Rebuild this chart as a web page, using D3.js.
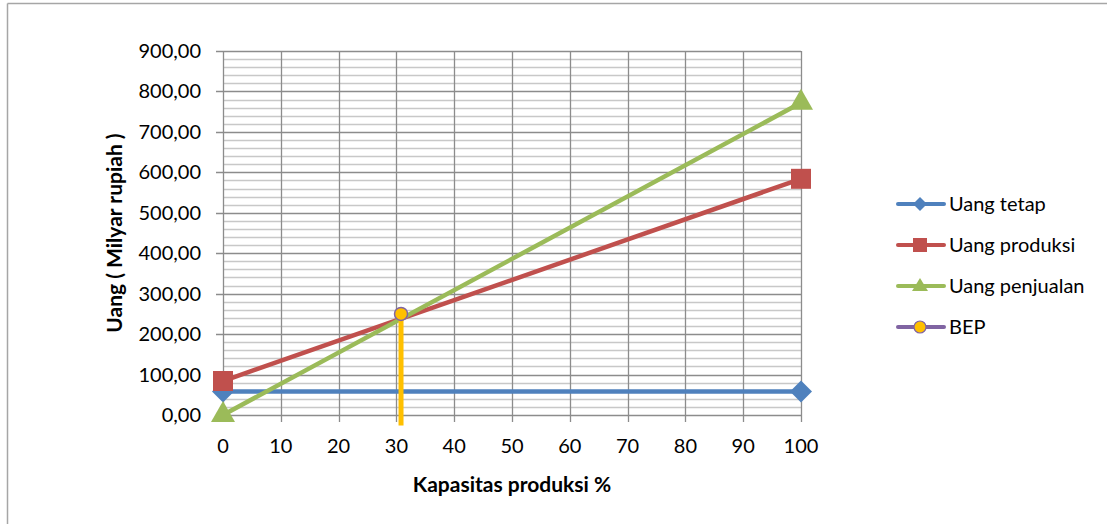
<!DOCTYPE html>
<html>
<head>
<meta charset="utf-8">
<script src="https://cdn.jsdelivr.net/npm/d3@7/dist/d3.min.js"></script>
<style>
  html, body { margin: 0; padding: 0; background: #fff; }
  svg { display: block; }
  text { font-family: Lato, "Open Sans", "DejaVu Sans", sans-serif; fill: #000; }
</style>
</head>
<body>
<svg id="chart" width="1107" height="524"></svg>
<script>
// Break-even chart data (Milyar rupiah vs. production capacity %)
const xTicks = [0, 10, 20, 30, 40, 50, 60, 70, 80, 90, 100];
const yTicks = [0, 100, 200, 300, 400, 500, 600, 700, 800, 900];

const fixedX = [0, 100];
const fixedY = [58, 58];          // Uang tetap
const prodX = [0, 100];
const prodY = [84, 584];          // Uang produksi
const salesX = [0, 100];
const salesY = [0, 772];          // Uang penjualan
const bepX = [30.8, 30.8];
const bepY = [250, -26];          // BEP marker and drop line

const seriesNames = ["Uang tetap", "Uang produksi", "Uang penjualan", "BEP"];
const seriesColors = ["#4F81BD", "#C0504D", "#9BBB59", "#8064A2"];

const svg = d3.select("#chart");

// outer frame (top and left edges visible)
svg.append("line").attr("x1", 7.5).attr("x2", 1107).attr("y1", 3.5).attr("y2", 3.5)
  .attr("stroke", "#a6a6a6").attr("stroke-width", 1.5);
svg.append("line").attr("x1", 7.5).attr("x2", 7.5).attr("y1", 3.5).attr("y2", 524)
  .attr("stroke", "#a6a6a6").attr("stroke-width", 1.5);

const x = d3.scaleLinear().domain([0, 100]).range([223, 801]);
const y = d3.scaleLinear().domain([0, 900]).range([415, 51]);

const grid = svg.append("g");

// minor horizontal gridlines every 20
const minorY = d3.range(0, 901, 20).filter(v => v % 100 !== 0);
grid.selectAll("line.minor").data(minorY).join("line")
  .attr("x1", x(0)).attr("x2", x(100))
  .attr("y1", d => Math.round(y(d)) + 0.5).attr("y2", d => Math.round(y(d)) + 0.5)
  .attr("stroke", "#c8c8c8").attr("stroke-width", 1.3);

// major horizontal gridlines with tick stubs
grid.selectAll("line.major").data(yTicks).join("line")
  .attr("x1", x(0) - 7).attr("x2", x(100))
  .attr("y1", d => Math.round(y(d)) + 0.5).attr("y2", d => Math.round(y(d)) + 0.5)
  .attr("stroke", "#8c8c8c").attr("stroke-width", 1.3);

// vertical gridlines with tick stubs below the axis
grid.selectAll("line.vert").data(xTicks).join("line")
  .attr("x1", d => Math.round(x(d)) + 0.5).attr("x2", d => Math.round(x(d)) + 0.5)
  .attr("y1", y(900)).attr("y2", y(0) + 7)
  .attr("stroke", "#8c8c8c").attr("stroke-width", 1.3);

// y tick labels
const fmt = v => d3.format(".2f")(v).replace(".", ",");
svg.append("g").selectAll("text").data(yTicks).join("text")
  .attr("x", 201).attr("y", d => y(d))
  .attr("dy", "0.35em").attr("text-anchor", "end")
  .attr("font-size", 20).text(fmt);

// x tick labels
svg.append("g").selectAll("text").data(xTicks).join("text")
  .attr("x", d => x(d)).attr("y", 453)
  .attr("text-anchor", "middle")
  .attr("font-size", 20).text(d => d);

// axis titles
svg.append("text").attr("x", 512).attr("y", 492)
  .attr("text-anchor", "middle").attr("font-size", 21).attr("font-weight", "bold")
  .text("Kapasitas produksi %");
svg.append("text")
  .attr("transform", "translate(122,233) rotate(-90)")
  .attr("text-anchor", "middle").attr("font-size", 21).attr("font-weight", "bold")
  .text("Uang ( Milyar rupiah )");

const line = d3.line().x(d => x(d[0])).y(d => y(d[1]));
const zip = (a, b) => a.map((v, i) => [v, b[i]]);

const plot = svg.append("g");

function drawSeries(xs, ys, color, marker) {
  const pts = zip(xs, ys);
  plot.append("path").datum(pts).attr("d", line)
    .attr("fill", "none").attr("stroke", color).attr("stroke-width", 4.5)
    .attr("stroke-linecap", "round");
  plot.append("g").selectAll("path").data(pts).join("path")
    .attr("transform", d => `translate(${x(d[0])},${y(d[1])})`)
    .attr("d", marker).attr("fill", color);
}

const diamond = "M0,-11L11,0L0,11L-11,0Z";
const square = "M-10,-10H10V10H-10Z";
const triangle = "M0,-14L12,7H-12Z";

drawSeries(fixedX, fixedY, seriesColors[0], diamond);
drawSeries(prodX, prodY, seriesColors[1], square);
drawSeries(salesX, salesY, seriesColors[2], triangle);

// BEP drop line and marker
const bepPts = zip(bepX, bepY);
plot.append("path").datum(bepPts).attr("d", line)
  .attr("fill", "none").attr("stroke", "#FFC000").attr("stroke-width", 5);
plot.append("circle")
  .attr("cx", x(bepX[0])).attr("cy", y(bepY[0])).attr("r", 6.5)
  .attr("fill", "#FFC000").attr("stroke", seriesColors[3]).attr("stroke-width", 1.5);

// legend
const legend = svg.append("g");
const legY = [204, 245, 286, 327];
const markers = [
  g => g.append("path").attr("d", "M0,-7L7,0L0,7L-7,0Z").attr("fill", seriesColors[0]),
  g => g.append("rect").attr("x", -7).attr("y", -7).attr("width", 14).attr("height", 14).attr("fill", seriesColors[1]),
  g => g.append("path").attr("d", "M0,-8L8,5H-8Z").attr("fill", seriesColors[2]),
  g => g.append("circle").attr("r", 6).attr("fill", "#FFC000").attr("stroke", seriesColors[3]).attr("stroke-width", 1.2)
];
seriesNames.forEach((name, i) => {
  const g = legend.append("g");
  g.append("line").attr("x1", 898).attr("x2", 944).attr("y1", legY[i]).attr("y2", legY[i])
    .attr("stroke", seriesColors[i]).attr("stroke-width", 4).attr("stroke-linecap", "round");
  const m = g.append("g").attr("transform", `translate(920,${legY[i]})`);
  markers[i](m);
  g.append("text").attr("x", 949).attr("y", legY[i]).attr("dy", "0.35em")
    .attr("font-size", 20).text(name);
});
</script>
</body>
</html>
